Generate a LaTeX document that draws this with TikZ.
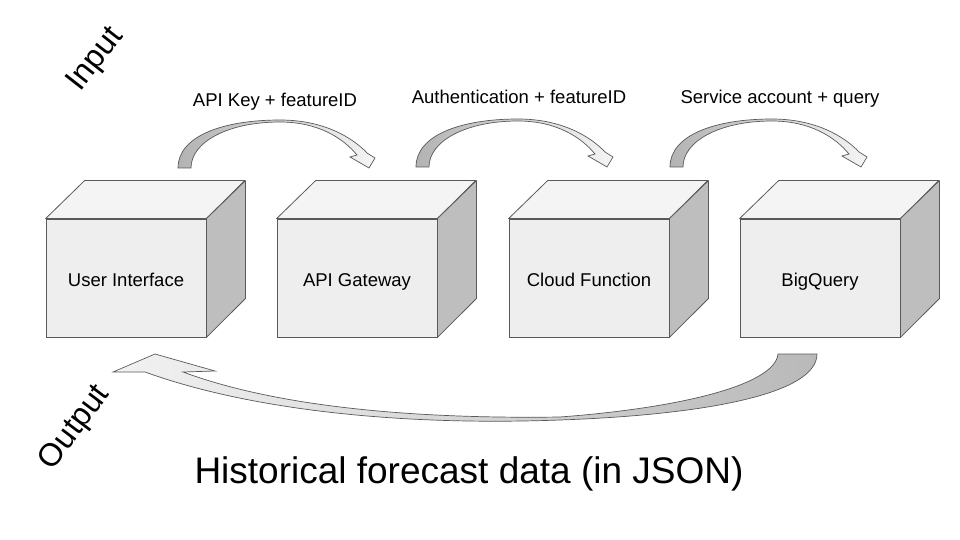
\documentclass[tikz,border=0pt]{standalone}
\usepackage{fontspec}
\setmainfont{Liberation Sans}
\usepackage{tikz}

\definecolor{edgegray}{HTML}{595959}
\definecolor{frontgray}{HTML}{EEEEEE}
\definecolor{topgray}{HTML}{F4F4F4}
\definecolor{sidegray}{HTML}{BEBEBE}

\tikzset{
  flowarrow/.pic={
    \shade[left color=gray!60, right color=gray!8, draw=edgegray, line width=0.7pt]
      (0,0) .. controls (0,-32) and (45,-48) .. (102,-48)
      .. controls (145,-48) and (174,-31) .. (189,-15)
      -- (197,-10) -- (191,0) -- (172,-11) -- (179,-13)
      .. controls (165,-30) and (140,-46) .. (102,-46)
      .. controls (50,-46) and (13,-26) .. (13,0) -- cycle;
  }
}

\begin{document}
\begin{tikzpicture}[
        x=1pt, y=-1pt,
        box/.style={draw=edgegray, fill=frontgray, line width=0.8pt,
          minimum width=160pt, minimum height=118pt, inner sep=0pt,
          text height=16pt, text depth=0pt,
          font=\fontsize{18.5}{22}\selectfont},
        cubetop/.style={draw=edgegray, fill=topgray, line width=0.8pt, line join=round},
        cubeside/.style={draw=edgegray, fill=sidegray, line width=0.8pt, line join=round},
        steplabel/.style={anchor=base, inner sep=0pt, font=\fontsize{18.5}{22}\selectfont},
        sidelabel/.style={inner sep=0pt, font=\fontsize{32}{38}\selectfont}
      ]
      \useasboundingbox (0,0) rectangle (960,540);

      % the four services
      \node[box] (ui) at (126,278) {User Interface};
      \node[box] (gw) at (357,278) {API Gateway};
      \node[box] (cf) at (589,278) {Cloud Function};
      \node[box] (bq) at (820,278) {BigQuery};
      \foreach \n in {ui,gw,cf,bq} {
        \draw[cubetop] (\n.north west) -- ++(39,-38) -- ++(160,0) -- (\n.north east) -- cycle;
        \draw[cubeside] (\n.north east) -- ++(39,-38) -- ++(0,118) -- (\n.south east) -- cycle;
      }

      % requests going in
      \coordinate (in1) at (178,168);
      \coordinate (in2) at (416,167);
      \coordinate (in3) at (670,167);
      \pic at (in1) {flowarrow};
      \pic at (in2) {flowarrow};
      \pic at (in3) {flowarrow};
      \node[steplabel] (l1) at (275,107) {API Key + featureID};
      \node[steplabel] (l2) at (519,104) {Authentication + featureID};
      \node[steplabel] (l3) at (780,104) {Service account + query};

      % data coming back
      \shade[left color=gray!10, right color=gray!55, draw=edgegray, line width=0.7pt]
        (778,354) -- (817,354)
        .. controls (817,395) and (700,415) .. (560,420)
        .. controls (400,426) and (250,410) .. (145,372)
        -- (113,372) -- (155,354) -- (215,371) -- (183,372)
        .. controls (280,408) and (420,419) .. (560,417)
        .. controls (680,408) and (775,385) .. (778,354) -- cycle;

      \node[sidelabel, rotate=52] (inp) at (96,60) {Input};
      \node[sidelabel, rotate=53] (outp) at (75,428) {Output};
      \node[anchor=base, inner sep=0pt, font=\fontsize{37}{44}\selectfont] (res) at (469,483)
        {Historical forecast data (in JSON)};

    \end{tikzpicture}
\end{document}
